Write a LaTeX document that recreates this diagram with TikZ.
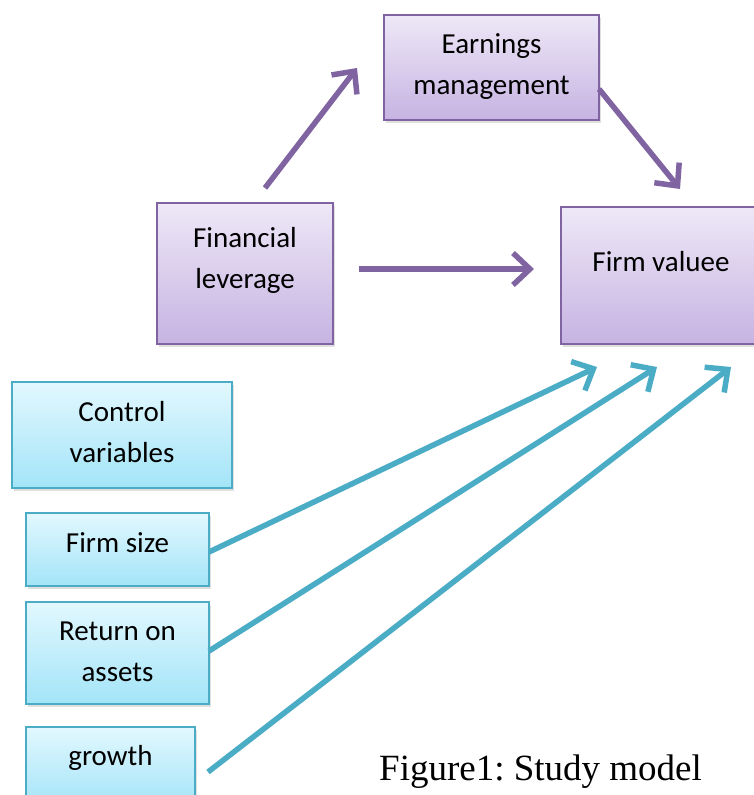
\documentclass[tikz,border=0pt]{standalone}
\usepackage{fontspec}
\setmainfont{Carlito}
\newfontfamily\capfont{Liberation Serif}
\usetikzlibrary{arrows.meta,shadows}
\frenchspacing
\definecolor{purpleline}{HTML}{8064A2}
\definecolor{purpletop}{HTML}{EEE8F7}
\definecolor{purplebot}{HTML}{C6B3E2}
\definecolor{cyanline}{HTML}{4BACC6}
\definecolor{cyantop}{HTML}{E2F8FE}
\definecolor{cyanbot}{HTML}{A3E4F8}
\tikzset{
  pbox/.style={draw=purpleline, line width=1.5pt, top color=purpletop, bottom color=purplebot,
    drop shadow={shadow xshift=2pt, shadow yshift=-3pt, opacity=0.25}},
  cbox/.style={draw=cyanline, line width=1.5pt, top color=cyantop, bottom color=cyanbot,
    drop shadow={shadow xshift=2pt, shadow yshift=-3pt, opacity=0.25}},
  boxtext/.style={font=\fontsize{29}{41}\selectfont, align=center, text=black},
  parrow/.style={draw=purpleline, line width=5.5pt, -{Straight Barb[length=17pt, width=32pt, line width=5.5pt]}},
  carrow/.style={draw=cyanline, line width=5.5pt, -{Straight Barb[length=17pt, width=32pt, line width=5.5pt]}},
}
\begin{document}
\begin{tikzpicture}[x=1pt, y=-1pt]
\clip (0,0) rectangle (754,795);
\fill[white] (0,0) rectangle (754,795);
% purple boxes
\node[pbox, minimum width=215pt, minimum height=105pt] (em) at (491.5,67.5) {};
\node[boxtext] (emt) at (491.5,67) {Earnings\\management};
\node[pbox, minimum width=176pt, minimum height=141pt] (fl) at (245,273.5) {};
\node[boxtext] (flt) at (245,260) {Financial\\leverage};
\node[pbox, minimum width=200pt, minimum height=137pt] (fv) at (661,275.5) {};
\node[boxtext] (fvt) at (661,262) {Firm valuee};
% cyan boxes
\node[cbox, minimum width=220pt, minimum height=106pt] (cv) at (122,435) {};
\node[boxtext] (cvt) at (122,432) {Control\\variables};
\node[cbox, minimum width=183pt, minimum height=73pt] (fs) at (117.5,549.5) {};
\node[boxtext] (fst) at (117.5,543) {Firm size};
\node[cbox, minimum width=183pt, minimum height=102pt] (ra) at (117.5,653) {};
\node[boxtext] (rat) at (117.5,652) {Return on\\assets};
\node[cbox, minimum width=169pt, minimum height=80pt] (gr) at (110.5,767) {};
\node[boxtext] (grt) at (110.5,758) {growth};
% caption
\node[font=\capfont\fontsize{37}{44}\selectfont, anchor=base west, inner sep=0pt] (cap) at (379,780) {Figure1: Study model};
% arrow endpoints
\coordinate (a1s) at (265,188); \coordinate (a1e) at (357,68);
\coordinate (a2s) at (599,89);  \coordinate (a2e) at (680,189);
\coordinate (a3s) at (359,269); \coordinate (a3e) at (534,269);
\coordinate (b1s) at (209,552); \coordinate (b1e) at (597,367);
\coordinate (b2s) at (209,651); \coordinate (b2e) at (657,367);
\coordinate (b3s) at (208,772); \coordinate (b3e) at (731,367);
\draw[parrow] (a1s) -- (a1e);
\draw[parrow] (a2s) -- (a2e);
\draw[parrow] (a3s) -- (a3e);
\draw[carrow] (b1s) -- (b1e);
\draw[carrow] (b2s) -- (b2e);
\draw[carrow] (b3s) -- (b3e);
\end{tikzpicture}
\end{document}
